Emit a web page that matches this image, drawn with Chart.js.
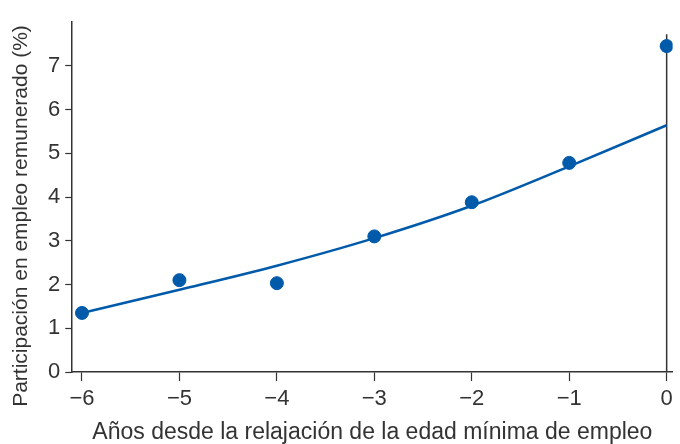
<!DOCTYPE html>
<html>
<head>
<meta charset="utf-8">
<script src="https://cdn.jsdelivr.net/npm/chart.js@4/dist/chart.umd.min.js"></script>
<style>
  html, body { margin: 0; padding: 0; background: #fff; }
  #wrap { width: 680px; height: 444px; }
</style>
</head>
<body>
<div id="wrap"><canvas id="myChart"></canvas></div>
<script>
// años relativos a la relajación de la edad mínima
var years = [-6, -5, -4, -3, -2, -1, 0];
// participación observada (%)
var observed = [1.35, 2.1, 2.03, 3.1, 3.88, 4.78, 7.45];
// curva ajustada (%)
var fitted = [1.35, 1.88, 2.43, 3.06, 3.8, 4.7, 5.64];
var xTicks = [-6, -5, -4, -3, -2, -1, 0];
var yTicks = [0, 1, 2, 3, 4, 5, 6, 7];
var yTitle = 'Participación en empleo remunerado (%)';

var blue = '#005aaa';
var ink = '#333333';
var font = '"Liberation Sans", Arial, sans-serif';

var pts = years.map((x, i) => ({x: x, y: observed[i]}));
var fit = years.map((x, i) => ({x: x, y: fitted[i]}));

Chart.defaults.font.family = font;
Chart.defaults.color = ink;

// y title drawn by hand, it sits a bit lower than the plot centre
var yTitlePlugin = {
    id: 'yTitle',
    afterDraw(chart) {
        var c = chart.ctx;
        c.save();
        c.translate(21, 216);
        c.rotate(-Math.PI / 2);
        c.font = '21px ' + font;
        c.fillStyle = ink;
        c.textAlign = 'center';
        c.textBaseline = 'middle';
        c.fillText(yTitle, 0, 0);
        c.restore();
    }
};

var ctx = document.getElementById('myChart');
var myChart = new Chart(ctx, {
    type: 'scatter',
    data: {
        datasets: [
            {
                type: 'line',
                data: [{x: 0, y: 0}, {x: 0, y: 7.72}],
                borderColor: ink,
                borderWidth: 1.5,
                pointRadius: 0,
                order: 3
            },
            {
                type: 'line',
                data: fit,
                borderColor: blue,
                borderWidth: 2.5,
                pointRadius: 0,
                cubicInterpolationMode: 'monotone',
                order: 2
            },
            {
                data: pts,
                backgroundColor: blue,
                borderColor: blue,
                pointRadius: 6.5,
                order: 1
            }
        ]
    },
    options: {
        responsive: true,
        maintainAspectRatio: false,
        animation: false,
        layout: {padding: {top: 22, right: 0, left: 43, bottom: -2}},
        plugins: {legend: {display: false}, tooltip: {enabled: false}},
        scales: {
            x: {
                type: 'linear',
                min: -6.1,
                max: 0.06,
                afterBuildTicks: (axis) => { axis.ticks = xTicks.map(v => ({value: v})); },
                ticks: {
                    font: {size: 22},
                    color: ink,
                    padding: 5,
                    callback: (v) => v < 0 ? '\u2212' + Math.abs(v) : String(v)
                },
                grid: {drawOnChartArea: false, tickLength: 9, color: ink, tickWidth: 1.2},
                border: {color: ink, width: 1.5},
                title: {
                    display: true,
                    text: 'Años desde la relajación de la edad mínima de empleo',
                    font: {size: 23},
                    color: ink,
                    padding: {top: 1, bottom: 0}
                }
            },
            y: {
                min: 0,
                max: 8,
                afterBuildTicks: (axis) => { axis.ticks = yTicks.map(v => ({value: v})); },
                ticks: {font: {size: 22}, color: ink, padding: 5},
                grid: {drawOnChartArea: false, tickLength: 7, color: ink, tickWidth: 1.2},
                border: {color: ink, width: 1.5}
            }
        }
    },
    plugins: [yTitlePlugin]
});

window.chart = myChart;
</script>
</body>
</html>
